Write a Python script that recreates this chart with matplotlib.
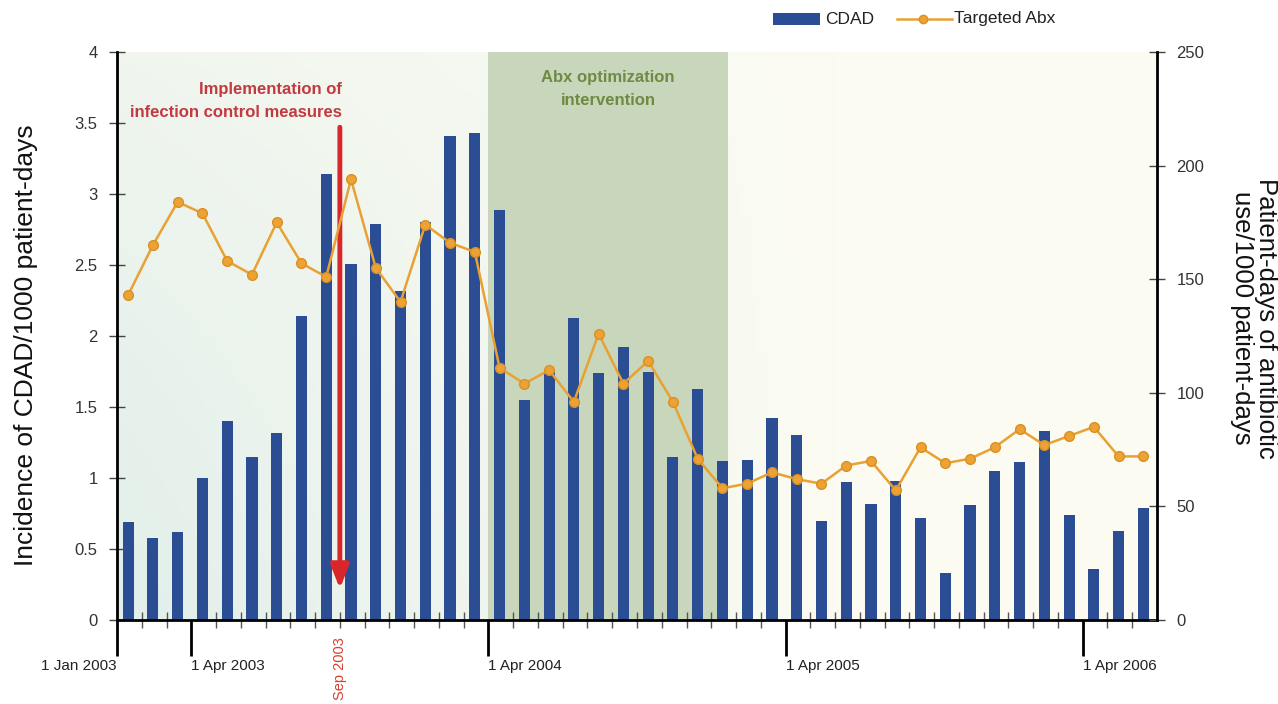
import numpy as np
import pandas as pd
import matplotlib
matplotlib.use("Agg")
import matplotlib.pyplot as plt
from matplotlib.patches import Rectangle
from matplotlib.lines import Line2D
from matplotlib.colors import to_rgb

# ---- data ----
months = pd.date_range("2003-01-01", "2006-06-01", freq="MS")
cdad = [0.69, 0.58, 0.62, 1.00, 1.40, 1.15, 1.32, 2.14, 3.14, 2.51, 2.79, 2.32,
        2.80, 3.41, 3.43, 2.89, 1.55, 1.77, 2.13, 1.74, 1.92, 1.75, 1.15, 1.63,
        1.12, 1.13, 1.42, 1.30, 0.70, 0.97, 0.82, 0.98, 0.72, 0.33, 0.81, 1.05,
        1.11, 1.33, 0.74, 0.36, 0.63, 0.79]
abx = [143, 165, 184, 179, 158, 152, 175, 157, 151, 194, 155, 140,
       174, 166, 162, 111, 104, 110, 96, 126, 104, 114, 96, 71,
       58, 60, 65, 62, 60, 68, 70, 57, 76, 69, 71, 76,
       84, 77, 81, 85, 72, 72]
major_dates = ["2003-01-01", "2003-04-01", "2004-04-01", "2005-04-01", "2006-04-01"]
major_labels = ["1 Jan 2003", "1 Apr 2003", "1 Apr 2004", "1 Apr 2005", "1 Apr 2006"]
left_ticks = [0, 0.5, 1, 1.5, 2, 2.5, 3, 3.5, 4]
left_tick_labels = ["0", "0.5", "1", "1.5", "2", "2.5", "3", "3.5", "4"]
right_ticks = [0, 50, 100, 150, 200, 250]
intervention_month = "2003-10-01"   # arrow between Sep and Oct bars
abx_start, abx_end = "2004-04-01", "2005-01-21"

def mpos(d):
    d = pd.Timestamp(d)
    return (d.year - 2003) * 12 + (d.month - 1) + (d.day - 1) / 30.0

x = np.arange(len(months))
bar_x = x + 0.45

plt.rcParams["font.family"] = ["Liberation Sans", "DejaVu Sans"]

FW, FH = 1278, 704
def fx(px): return px / FW
def fy(py): return 1 - py / FH

fig = plt.figure(figsize=(FW / 100, FH / 100), dpi=100)
ax = fig.add_axes([fx(117), fy(620), (1157 - 117) / FW, (620 - 52) / FH])

# background gradient
H, W = 100, 200
cream = np.array(to_rgb("#fbfbf2"))
mint = np.array(to_rgb("#e2efea"))
xx, yy = np.meshgrid(np.linspace(0, 1, W), np.linspace(0, 1, H))
w = np.clip((1 - xx * 1.45), 0, 1) * np.clip(1 - yy * 0.75, 0, 1) ** 0.6
img = cream[None, None, :] * (1 - w[..., None]) + mint[None, None, :] * w[..., None]
ax.imshow(img, extent=[0, 42, 0, 4], origin="lower", aspect="auto", zorder=0)

ax.axvspan(mpos(abx_start), mpos(abx_end), color="#c8d6bb", zorder=0.5, lw=0)

ax.bar(bar_x, cdad, width=0.45, color="#2a4d94", zorder=2)

ax.set_xlim(0, 42)
ax.set_ylim(0, 4)
ax.set_yticks(left_ticks)
ax.set_yticklabels(left_tick_labels)
ax.set_xticks([mpos(d) for d in major_dates])
ax.set_xticklabels(major_labels)
ax.set_xticks(np.arange(0, 42), minor=True)
ax.tick_params(axis="x", which="major", direction="out", length=26, width=2,
               pad=2, labelsize=11, labelcolor="#222222")
for i, lab in enumerate(ax.get_xticklabels()):
    lab.set_horizontalalignment("right" if i == 0 else "left")
ax.tick_params(axis="x", which="minor", direction="inout", length=12, width=1,
               color="#555555")
ax.tick_params(axis="y", which="major", direction="inout", length=12, width=1,
               pad=8, labelsize=12, labelcolor="#333333", color="#444444")
for s in ["top", "right"]:
    ax.spines[s].set_visible(False)
for s in ["left", "bottom"]:
    ax.spines[s].set_linewidth(2)

# arrow
xa = mpos(intervention_month)
ax.annotate("", xy=(xa, 0.22), xytext=(xa, 3.47),
            arrowprops=dict(arrowstyle="-|>,head_length=1.4,head_width=0.55",
                            color="#d8262b", lw=3.5, shrinkA=0, shrinkB=0),
            zorder=3)
ax.text(xa + 0.07, 3.655, "Implementation of\ninfection control measures",
        ha="right", va="center", fontsize=12, fontweight="bold", color="#c23a40",
        linespacing=1.6, zorder=4)
ax.text((mpos(abx_start) + mpos(abx_end)) / 2, 3.74, "Abx optimization\nintervention",
        ha="center", va="center", fontsize=12, fontweight="bold", color="#6e8a43",
        linespacing=1.65, zorder=4)
ax.text(xa, -0.12, "Sep 2003", rotation=90, ha="center", va="top",
        fontsize=10.5, color="#d8402f", zorder=4)

# right axis
ax2 = ax.twinx()
ax2.set_ylim(0, 250)
ax2.plot(bar_x, abx, color="#e8a132", lw=1.8, marker="o", ms=7,
         markerfacecolor="#eda236", markeredgecolor="#d99022", markeredgewidth=1,
         zorder=5)
ax2.set_yticks(right_ticks)
ax2.tick_params(axis="y", direction="inout", length=12, width=1, pad=8,
                labelsize=12, labelcolor="#333333", color="#444444")
for s in ["top", "left", "bottom"]:
    ax2.spines[s].set_visible(False)
ax2.spines["right"].set_linewidth(2)

# axis titles
fig.text(fx(26), fy(345), "Incidence of CDAD/1000 patient-days", rotation=90,
         ha="center", va="center", fontsize=19, color="#111111")
fig.text(fx(1254), fy(318), "Patient-days of antibiotic\nuse/1000 patient-days",
         rotation=270, ha="center", va="center", fontsize=18.5, color="#111111",
         linespacing=1.05)

# legend (drawn by hand at the top)
fig.add_artist(Rectangle((fx(773), fy(25)), fx(820) - fx(773), fy(13) - fy(25),
                         transform=fig.transFigure, facecolor="#2a4d94",
                         edgecolor="none"))
fig.text(fx(825), fy(19), "CDAD", ha="left", va="center", fontsize=12.5,
         color="#222222")
fig.add_artist(Line2D([fx(897), fx(952)], [fy(19), fy(19)],
                      transform=fig.transFigure, color="#e8a132", lw=1.8))
fig.add_artist(Line2D([fx(923)], [fy(19)], transform=fig.transFigure,
                      marker="o", ms=6, markerfacecolor="#eda236",
                      markeredgecolor="#d99022", lw=0))
fig.text(fx(954), fy(19), "Targeted Abx", ha="left", va="center", fontsize=12.5,
         color="#222222")

fig.savefig("out.png", dpi=100, facecolor="white")
